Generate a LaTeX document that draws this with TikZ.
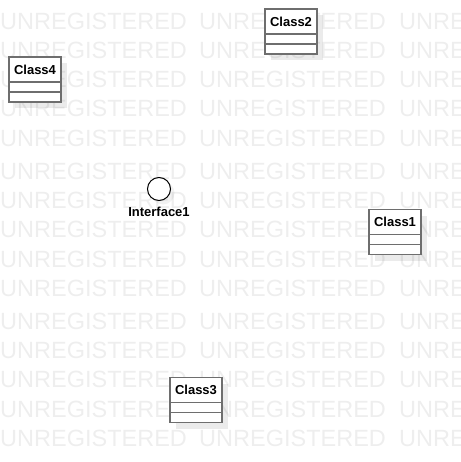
\documentclass[tikz,border=0pt]{standalone}
\usepackage{fontspec}
\setmainfont{Liberation Sans}
\usetikzlibrary{positioning, shadows}
\definecolor{wmgray}{RGB}{238,238,238}
\definecolor{linegray}{RGB}{110,110,110}

\begin{document}
\begin{tikzpicture}[
    x=1pt, y=-1pt,
    classhead/.style={rectangle, draw=linegray, line width=1.5pt, fill=white,
                      minimum width=52pt, minimum height=25pt, inner sep=0pt, outer sep=0pt,
                      font=\fontsize{13}{15}\selectfont\bfseries,
                      drop shadow={shadow xshift=6pt, shadow yshift=-6pt, fill=black, opacity=0.08}},
    classpart/.style={classhead, minimum height=10pt},
    iface/.style={circle, draw=black, line width=1pt, fill=white, minimum size=23pt,
                  inner sep=0pt, outer sep=0pt,
                  drop shadow={shadow xshift=4pt, shadow yshift=-4pt, fill=black, opacity=0.05}},
    ifacelabel/.style={font=\fontsize{13}{15}\selectfont\bfseries, inner sep=1pt},
    watermark/.style={anchor=base west, inner sep=0pt, text=wmgray,
                      font=\fontsize{23.5}{28}\selectfont}
]
    \useasboundingbox (0,0) rectangle (460,462);

    % Watermark
    \begin{scope}
        \clip (0,0) rectangle (460,462);
        \foreach \t [count=\i] in {0,150,300}
            \foreach \r [count=\j] in {0,29.1,58.2,87.3,116.4}
                \foreach \c [count=\k] in {0,199,399}
                    \node[watermark] (wm-\i-\j-\k) at (\c, \t+\r+29.7) {UNREGISTERED};
    \end{scope}

    % Classes
    \node[classhead] (class4) at (35,69.5) {Class4};
    \node[classpart, below=0pt of class4] (class4a) {};
    \node[classpart, below=0pt of class4a] (class4b) {};

    \node[classhead] (class2) at (291,21.5) {Class2};
    \node[classpart, below=0pt of class2] (class2a) {};
    \node[classpart, below=0pt of class2a] (class2b) {};

    \node[classhead] (class1) at (395,222) {Class1};
    \node[classpart, below=0pt of class1] (class1a) {};
    \node[classpart, below=0pt of class1a] (class1b) {};

    \node[classhead] (class3) at (196,390) {Class3};
    \node[classpart, below=0pt of class3] (class3a) {};
    \node[classpart, below=0pt of class3a] (class3b) {};

    % Interface
    \node[iface] (iface1) at (159,189) {};
    \node[ifacelabel, below=5pt of iface1] (iface1label) {Interface1};
\end{tikzpicture}
\end{document}
